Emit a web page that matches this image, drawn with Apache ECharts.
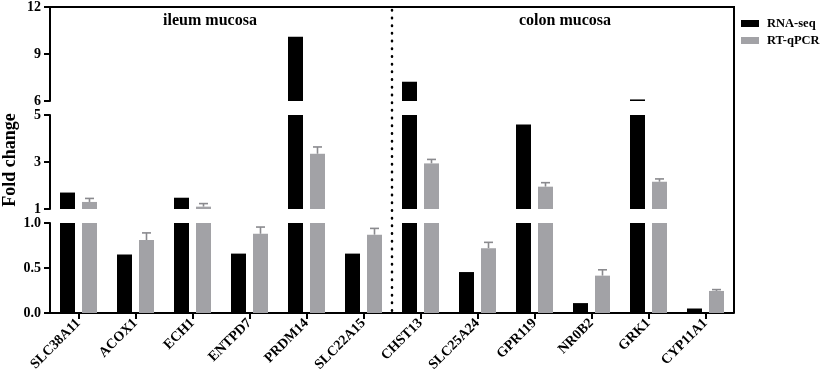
<!DOCTYPE html>
<html><head><meta charset="utf-8">
<script src="https://cdn.jsdelivr.net/npm/echarts@6/dist/echarts.min.js"></script>
<style>html,body{margin:0;padding:0;background:#fff}#c{width:829px;height:384px}</style>
</head><body><div id="c"></div>
<script>
const categories = ['SLC38A11','ACOX1','ECH1','ENTPD7','PRDM14','SLC22A15','CHST13','SLC25A24','GPR119','NR0B2','GRK1','CYP11A1'];
const rnaSeq    = [1.70, 0.65, 1.48, 0.66, 10.1, 0.66, 7.23, 0.455, 4.60, 0.11, 6.10, 0.05];
const rtqpcr    = [1.30, 0.81, 1.10, 0.88, 3.35, 0.87, 2.94, 0.72, 1.95, 0.415, 2.16, 0.245];
const rtqpcrErr = [0.15, 0.08, 0.13, 0.075, 0.29, 0.07, 0.17, 0.065, 0.17, 0.065, 0.12, 0.015];
const yTicksTop = [6, 9, 12];
const yTicksMid = [1, 3, 5];
const yTicksLow = [0, 0.5, 1];
const seriesNames = ['RNA-seq', 'RT-qPCR'];
const groupLabels = ['ileum mucosa', 'colon mucosa'];
const yTitle = 'Fold change';

const FONT = '"Liberation Serif", "Times New Roman", serif';
const BLACK = '#000000', GRAY = '#a2a2a6', ERR = '#8a8a8e';
const GL = 50, GW = 684, TICK = 6;
const segs = [
  {ticks: yTicksTop, top: 7,   height: 94, fmt: v => String(v)},
  {ticks: yTicksMid, top: 115, height: 94, fmt: v => String(v)},
  {ticks: yTicksLow, top: 223, height: 90, fmt: v => v.toFixed(1)}
];
const BAR_W = 15, GAP = 7;
const grayOffset = (BAR_W + GAP) / 2;

const chart = echarts.init(document.getElementById('c'), null, {renderer: 'canvas'});
const grids = [], xAxes = [], yAxes = [], series = [];
segs.forEach((s, i) => {
  const lo = s.ticks[0], hi = s.ticks[s.ticks.length - 1];
  const isBottom = i === segs.length - 1;
  grids.push({left: GL, width: GW, top: s.top, height: s.height});
  xAxes.push({
    type: 'category', data: categories, gridIndex: i,
    axisLine: {show: isBottom, onZero: false, lineStyle: {color: BLACK, width: 2}},
    axisTick: {show: isBottom, alignWithLabel: true, length: TICK, interval: 0, lineStyle: {color: BLACK, width: 2}},
    axisLabel: {show: isBottom, rotate: 45, interval: 0, margin: 8, color: BLACK, fontWeight: 'bold', fontSize: 14, fontFamily: FONT},
    splitLine: {show: false}
  });
  yAxes.push({
    type: 'value', gridIndex: i, min: lo, max: hi, interval: s.ticks[1] - s.ticks[0],
    axisLine: {show: true, onZero: false, lineStyle: {color: BLACK, width: 2}},
    axisTick: {show: true, length: TICK, lineStyle: {color: BLACK, width: 2}},
    splitLine: {show: false},
    axisLabel: {showMinLabel: true, showMaxLabel: true, formatter: s.fmt, margin: TICK + 3, color: BLACK, fontWeight: 'bold', fontSize: 14, fontFamily: FONT}
  });
  const clipVals = arr => arr.map(v => v > lo ? v : '-');
  series.push({
    name: seriesNames[0], type: 'bar', xAxisIndex: i, yAxisIndex: i, clip: true,
    barWidth: BAR_W, barGap: (GAP / BAR_W * 100) + '%',
    itemStyle: {color: BLACK}, data: clipVals(rnaSeq), silent: true
  });
  series.push({
    name: seriesNames[1], type: 'bar', xAxisIndex: i, yAxisIndex: i, clip: true,
    barWidth: BAR_W, barGap: (GAP / BAR_W * 100) + '%',
    itemStyle: {color: GRAY}, data: clipVals(rtqpcr), silent: true
  });
  series.push({
    name: 'err' + i, type: 'custom', xAxisIndex: i, yAxisIndex: i, clip: true, silent: true,
    data: rtqpcr.map((v, k) => [k, v, rtqpcrErr[k]]),
    renderItem: (params, api) => {
      const k = api.value(0), v = api.value(1), e = api.value(2);
      const p0 = api.coord([k, v]), p1 = api.coord([k, v + e]);
      const cx = p0[0] + grayOffset;
      const st = {stroke: ERR, lineWidth: 1.6};
      return {type: 'group', children: [
        {type: 'line', shape: {x1: cx, y1: p0[1], x2: cx, y2: p1[1]}, style: st},
        {type: 'line', shape: {x1: cx - 4.5, y1: p1[1], x2: cx + 4.5, y2: p1[1]}, style: st}
      ]};
    }
  });
});

const top0 = segs[0].top, bottom0 = segs[2].top + segs[2].height;
const graphics = [
  {type: 'text', x: 10, y: 160, rotation: Math.PI / 2,
   style: {text: yTitle, font: 'bold 18px ' + FONT, fill: BLACK, textAlign: 'center', textVerticalAlign: 'middle'}},
  {type: 'text', x: 210, y: 21,
   style: {text: groupLabels[0], font: 'bold 16px ' + FONT, fill: BLACK, textAlign: 'center', textVerticalAlign: 'middle'}},
  {type: 'text', x: 565, y: 21,
   style: {text: groupLabels[1], font: 'bold 16px ' + FONT, fill: BLACK, textAlign: 'center', textVerticalAlign: 'middle'}},
  {type: 'line', z: 100, shape: {x1: GL, y1: top0, x2: GL + GW, y2: top0}, style: {stroke: BLACK, lineWidth: 2}},
  {type: 'line', z: 100, shape: {x1: GL + GW, y1: top0 - 1, x2: GL + GW, y2: bottom0}, style: {stroke: BLACK, lineWidth: 2}}
];
chart.setOption({
  animation: false,
  backgroundColor: '#fff',
  grid: grids, xAxis: xAxes, yAxis: yAxes, series: series,
  legend: {
    data: seriesNames, orient: 'vertical', left: 736, top: 12, itemWidth: 18, itemHeight: 7, itemGap: 4,
    icon: 'rect', selectedMode: false,
    textStyle: {color: BLACK, fontWeight: 'bold', fontSize: 12.5, fontFamily: FONT, padding: [0, 0, 0, 3]}
  },
  graphic: graphics
});

// dotted divider between the two tissue groups
const xa = chart.convertToPixel({xAxisIndex: 2}, 5);
const xb = chart.convertToPixel({xAxisIndex: 2}, 6);
const xd = (xa + xb) / 2;
graphics.push({type: 'line', z: 100, shape: {x1: xd, y1: top0 + 3, x2: xd, y2: bottom0 - 1},
  style: {stroke: BLACK, lineWidth: 2.5, lineDash: [0.5, 7.2], lineCap: 'round'}});
chart.setOption({graphic: graphics});
</script></body></html>
